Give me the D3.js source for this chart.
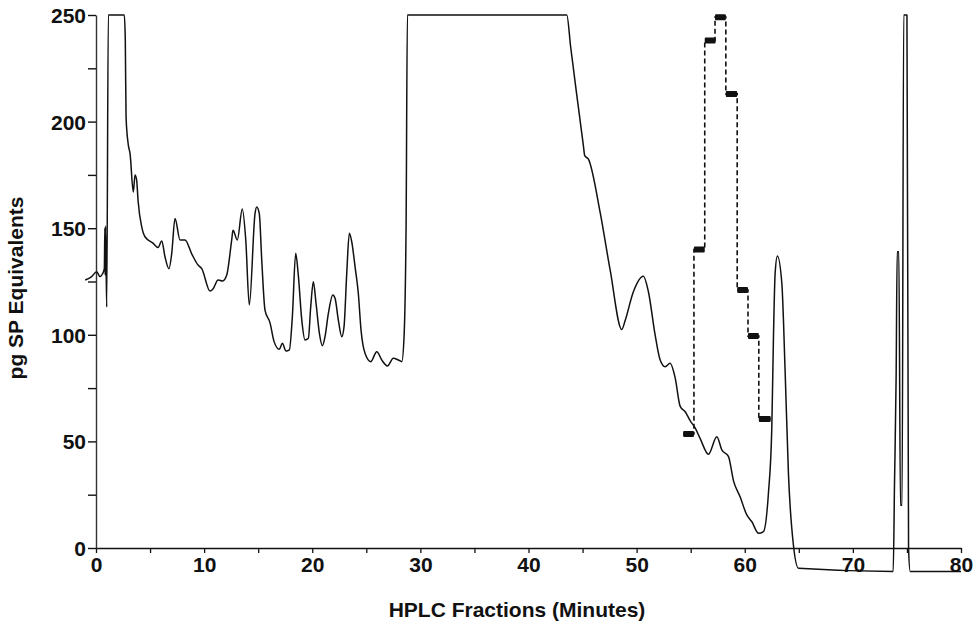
<!DOCTYPE html>
<html>
<head>
<meta charset="utf-8">
<script src="https://cdn.jsdelivr.net/npm/d3@7"></script>
<style>
  html, body { margin: 0; padding: 0; background: #fff; }
  svg { display: block; }
  text { font-family: "Liberation Sans", Arial, Helvetica, sans-serif; font-weight: bold; fill: #111; }
</style>
</head>
<body>
<svg id="chart" width="979" height="623"></svg>
<script>
// ---- Data ----
// UV/absorbance trace, time in minutes, value in pg SP equivalents scale (clipped at 250)
const traceTime = [
  -1.0, -0.4, 0.06, 0.37, 0.58, 0.77, 0.82, 0.85, 0.88, 0.99, 1.14, 2.62,
  2.71, 2.78, 2.99, 3.15, 3.45, 3.61, 3.76, 3.89, 4.23, 4.53, 5.27, 5.74,
  6.08, 6.38, 6.75, 7.0, 7.31, 7.77, 8.23, 8.85, 9.44, 9.78, 10.55, 10.82,
  11.29, 11.72, 12.09, 12.55, 12.67, 13.07, 13.53, 13.85, 14.18, 14.71, 14.86, 15.1,
  15.33, 15.63, 16.1, 16.47, 16.96, 17.23, 17.58, 17.88, 18.16, 18.47, 18.71, 19.03,
  19.33, 19.64, 19.86, 20.1, 20.35, 20.66, 20.94, 21.18, 21.49, 21.9, 22.11, 22.41,
  22.73, 22.94, 23.19, 23.43, 23.65, 23.96, 24.26, 24.51, 24.88, 25.41, 25.97, 26.43,
  26.95, 27.5, 27.96, 28.28, 28.49, 28.68, 28.8, 43.54, 43.9, 44.4, 45.07, 45.2,
  45.54, 46.63, 47.55, 48.63, 48.94, 49.7, 50.63, 51.09, 51.71, 52.17, 52.64, 53.1,
  53.56, 54.03, 54.49, 54.95, 55.41, 55.88, 56.64, 57.42, 57.88, 58.49, 58.96, 59.57,
  60.19, 60.66, 61.27, 61.73, 62.19, 62.5, 62.65, 62.81, 63.02, 63.43, 63.74, 64.04,
  64.5, 64.97, 73.73, 73.85, 74.0, 74.1, 74.25, 74.4, 74.55, 74.7, 75.0, 75.15,
  75.3, 80.0
];
const traceValue = [
  125.7, 127.3, 129.6, 127.3, 128.4, 131, 150, 128, 151, 113, 250, 250,
  238, 202, 189, 185, 167, 175, 172.6, 163, 150.6, 146, 143, 141,
  144, 136.6, 131, 138, 154.6, 144.5, 144.5, 138, 132.7, 131, 120.5, 121.5,
  125.7, 125.2, 128, 144.5, 149, 144.5, 159, 144.5, 114, 157, 160, 157,
  135, 111.6, 105.5, 96.8, 93.2, 96, 92.4, 92.9, 108.5, 138.2, 128, 107,
  97.6, 98.4, 113.2, 124.9, 114.8, 100.7, 94.9, 99.1, 110, 118.7, 117.1, 107,
  99.1, 103.8, 128.8, 147.6, 143.7, 131.9, 119.5, 102.3, 91.3, 87.4, 92.1, 88.2,
  85.4, 89, 88.2, 87.4, 99.1, 152, 250, 250, 235, 215, 189, 184,
  182.4, 157.3, 130.4, 102.5, 106.7, 120.2, 127.5, 120.2, 100, 88.3, 85, 86.6,
  79.9, 66.4, 63.9, 59.7, 56.3, 51.3, 44, 52.2, 46, 43, 31.5, 24,
  15.5, 12.3, 6.9, 7.7, 25.7, 56, 97.6, 128.8, 137, 124.2, 82, 35,
  1.4, -9.5, -11, 30, 80, 139, 139, 20, 20, 250, 250, 0,
  -11, -11
];
// SP immunoreactivity per collected fraction (step series)
const fractionStart = [54.3, 55.3, 56.3, 57.25, 58.25, 59.3, 60.3, 61.3];
const fractionEnd   = [55.3, 56.3, 57.3, 58.25, 59.3, 60.3, 61.3, 62.4];
const fractionValue = [53.5, 140, 238, 249, 213, 121, 99.4, 60.5];

const xTickValues = [0, 5, 10, 15, 20, 25, 30, 35, 40, 45, 50, 55, 60, 65, 70, 75, 80];
const xTickLabels = [0, 10, 20, 30, 40, 50, 60, 70, 80];
const yTickValues = [0, 25, 50, 75, 100, 125, 150, 175, 200, 225, 250];
const yTickLabels = [0, 50, 100, 150, 200, 250];
const xTitle = "HPLC Fractions (Minutes)";
const yTitle = "pg SP Equivalents";

// ---- Scales ----
const svg = d3.select("#chart");
const x = d3.scaleLinear().domain([0, 80]).range([96, 961]);
const y = d3.scaleLinear().domain([0, 250]).range([548, 15]);

// ---- Axes ----
const xAxis = d3.axisBottom(x)
  .tickValues(xTickValues)
  .tickSize(5)
  .tickSizeOuter(0)
  .tickFormat(d => xTickLabels.includes(d) ? d : "");
const gx = svg.append("g").attr("transform", `translate(0,${y(0)})`).call(xAxis);
gx.select(".domain").attr("stroke", "#111").attr("stroke-width", 1.6);
gx.selectAll(".tick line").attr("stroke", "#111").attr("stroke-width", 1.3);
gx.selectAll(".tick text").attr("font-size", 21).attr("font-family", "Liberation Sans, Arial, sans-serif")
  .attr("font-weight", "bold").attr("fill", "#111").attr("y", 9).attr("dy", "0.71em");

const yAxis = d3.axisLeft(y)
  .tickValues(yTickValues)
  .tickSize(8)
  .tickSizeOuter(0)
  .tickFormat(d => yTickLabels.includes(d) ? d : "");
const gy = svg.append("g").attr("transform", `translate(${x(0)},0)`).call(yAxis);
gy.select(".domain").attr("stroke", "#333").attr("stroke-width", 1.4);
gy.selectAll(".tick line").attr("stroke", "#111").attr("stroke-width", 1.4);
gy.selectAll(".tick text").attr("font-size", 21).attr("font-family", "Liberation Sans, Arial, sans-serif")
  .attr("font-weight", "bold").attr("fill", "#111").attr("x", -10).attr("dy", "0.36em");

// ---- Trace ----
const traceData = traceTime.map((t, i) => ({ t, v: traceValue[i] }));
const line = d3.line().x(d => x(d.t)).y(d => y(d.v)).curve(d3.curveMonotoneX);
svg.append("path")
  .datum(traceData)
  .attr("fill", "none")
  .attr("stroke", "#111")
  .attr("stroke-width", 1.5)
  .attr("stroke-linejoin", "round")
  .attr("d", line);

// ---- Fraction step series (dashed connectors + bars) ----
const stepData = fractionStart.map((s, i) => ({ t: s, v: fractionValue[i] }));
stepData.push({ t: fractionEnd[fractionEnd.length - 1], v: fractionValue[fractionValue.length - 1] });
svg.append("path")
  .datum(stepData)
  .attr("fill", "none")
  .attr("stroke", "#111")
  .attr("stroke-width", 1.6)
  .attr("stroke-dasharray", "5,3")
  .attr("d", d3.line().x(d => x(d.t)).y(d => y(d.v)).curve(d3.curveStepAfter));

svg.append("g").selectAll("rect")
  .data(fractionValue)
  .join("rect")
  .attr("x", (d, i) => x(fractionStart[i]))
  .attr("width", (d, i) => x(fractionEnd[i]) - x(fractionStart[i]))
  .attr("y", d => y(d) - 3)
  .attr("height", 6)
  .attr("rx", 1)
  .attr("fill", "#111");

// ---- Titles ----
svg.append("text")
  .attr("x", 517).attr("y", 617)
  .attr("text-anchor", "middle")
  .attr("font-size", 21)
  .text(xTitle);

svg.append("text")
  .attr("transform", "translate(23,288) rotate(-90)")
  .attr("text-anchor", "middle")
  .attr("font-size", 21)
  .text(yTitle);
</script>
</body>
</html>
